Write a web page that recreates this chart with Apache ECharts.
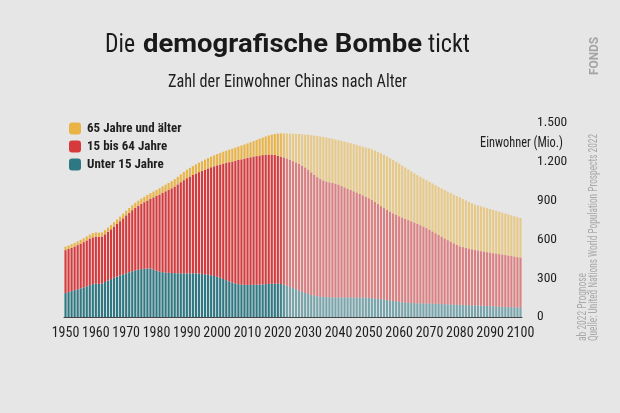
<!DOCTYPE html>
<html>
<head>
<meta charset="utf-8">
<script src="https://cdn.jsdelivr.net/npm/echarts@6/dist/echarts.min.js"></script>
<style>
html,body{margin:0;padding:0;background:#e6e6e6;}
#c{width:620px;height:413px;}
</style>
</head>
<body>
<div id="c"></div>
<script>
// Years 1950..2100
const years = [];
for (let y = 1950; y <= 2100; y++) years.push(String(y));

// Unter 15 Jahre (Mio.)
const unter15 = [
185,192,200,207,214,221,229,237,246,254,
258,256,258,270,282,293,303,313,322,330,
338,346,354,361,366,370,373,375,374,367,
358,352,347,343,341,340,339,338,338,337,
337,337,338,338,336,333,330,326,322,317,
311,303,294,285,275,266,259,254,251,249,
248,248,249,250,251,252,254,256,257,258,
258,255,250,242,233,224,214,204,194,186,
178,171,165,160,157,155,154,153,152,151,
151,151,151,151,151,150,150,150,150,149,
148,146,144,141,138,135,131,127,124,121,
118,115,112,110,108,107,106,105,105,104,
104,103,102,101,100,99,98,97,96,95,
94,93,92,91,90,89,88,87,86,85,
84,83,82,80,79,78,77,76,75,74,73
];
// 15 bis 64 Jahre (Mio.)
const jahre15bis64 = [
332,334,335,338,342,346,350,355,360,362,
364,364,364,369,377,385,396,406,419,433,
448,460,472,483,494,505,515,526,539,558,
578,595,613,629,642,655,670,687,704,721,
736,749,760,771,784,797,810,823,836,848,
862,876,892,906,922,936,949,960,968,976,
982,987,991,994,997,1000,1001,1000,998,995,
988,985,984,983,982,981,980,979,976,970,
960,947,934,921,909,900,893,888,884,879,
871,861,851,841,831,822,812,802,791,781,
770,758,745,732,719,707,697,687,677,668,
660,653,646,639,632,623,614,605,594,583,
570,558,546,533,520,508,496,484,473,462,
452,447,442,437,433,429,426,422,419,416,
413,410,408,406,404,401,398,395,392,389,386
];
// 65 Jahre und älter (Mio.)
const ab65 = [
27,27,28,28,29,30,30,31,31,32,
32,32,32,33,33,34,34,35,35,36,
36,37,38,39,40,41,42,43,44,45,
46,48,50,51,53,55,57,59,61,63,
65,67,69,71,73,75,77,80,82,85,
87,90,92,95,97,100,102,104,107,109,
112,116,120,125,130,135,141,148,155,162,
172,180,186,194,203,212,222,232,243,254,
271,288,304,319,330,337,341,342,342,343,
346,350,354,358,362,366,369,372,376,381,
386,392,398,404,409,412,413,414,413,411,
408,403,398,392,386,381,377,374,372,371,
371,371,371,372,374,375,376,377,377,378,
379,373,367,362,356,351,348,346,343,340,
338,335,331,328,324,321,318,315,312,309,306
];
const yTicks = [0, 300, 600, 900, 1200, 1500];
const seriesNames = ['Unter 15 Jahre', '15 bis 64 Jahre', '65 Jahre und älter'];
const colors = ['#2e7883', '#d63a3c', '#e9b445'];
const prognoseStart = '2022';

const COND = '"Roboto Condensed","DejaVu Sans Condensed",sans-serif';
const BOLD = 'Roboto,"DejaVu Sans",sans-serif';

const mctx = document.createElement('canvas').getContext('2d');
function fitScale(text, size, family, weight, target) {
  mctx.font = `${weight || 'normal'} ${size}px ${family}`;
  return target / mctx.measureText(text).width;
}
function fitText(text, x, y, size, family, weight, target, fill) {
  return {
    type: 'text', x: x, y: y,
    scaleX: fitScale(text, size, family, weight, target),
    style: { text: text, fontFamily: family, fontSize: size, fontWeight: weight || 'normal', fill: fill, align: 'left', verticalAlign: 'middle' }
  };
}

function styled(arr) {
  const startIdx = years.indexOf(prognoseStart);
  return arr.map((v, i) => {
    let op = 1;
    if (i === startIdx - 1) op = 0.9;
    else if (i === startIdx) op = 0.75;
    else if (i > startIdx) op = 0.6;
    return op === 1 ? v : { value: v, itemStyle: { opacity: op } };
  });
}

const chart = echarts.init(document.getElementById('c'), null, { renderer: 'canvas' });
const dataSets = [unter15, jahre15bis64, ab65];

const vtext = (text, x, len) => {
  const g = fitText(text, x, 341, 12, COND, 'normal', len, '#a9a9a9');
  g.rotation = Math.PI / 2;
  return g;
};
const fonds = fitText('FONDS', 595, 75, 13, BOLD, 'bold', 38, '#a3a3a3');
fonds.rotation = Math.PI / 2;

chart.setOption({
  backgroundColor: '#e6e6e6',
  animation: false,
  grid: { left: 64, right: 98, top: 123, bottom: 96, containLabel: false },
  legend: {
    data: seriesNames.slice().reverse(),
    orient: 'vertical',
    left: 64, top: 117,
    itemWidth: 12, itemHeight: 12, itemGap: 5,
    icon: 'roundRect',
    textStyle: { fontFamily: COND, fontSize: 13, fontWeight: 'bold', color: '#1e1e1e', padding: [0, 0, 0, 1] }
  },
  xAxis: {
    type: 'category',
    data: years,
    axisTick: { show: false },
    axisLine: { lineStyle: { color: '#444', width: 1 } },
    axisLabel: {
      interval: 9,
      showMinLabel: true,
      showMaxLabel: true,
      hideOverlap: false,
      margin: 9,
      fontFamily: COND, fontSize: 14, color: '#1e1e1e'
    }
  },
  yAxis: {
    type: 'value',
    position: 'right',
    min: yTicks[0], max: yTicks[yTicks.length - 1], interval: 300,
    splitLine: { show: false },
    axisLine: { show: false },
    axisTick: { show: false },
    axisLabel: {
      margin: 15,
      fontFamily: COND, fontSize: 13.5, color: '#1e1e1e',
      formatter: v => String(v).replace(/\B(?=(\d{3})+(?!\d))/g, '.')
    }
  },
  series: dataSets.map((d, k) => ({
    name: seriesNames[k],
    type: 'bar',
    stack: 'pop',
    data: styled(d),
    barCategoryGap: '30%',
    itemStyle: { color: colors[k] }
  })),
  graphic: [
    fitText('Die', 105, 45.5, 26, COND, 'normal', 30, '#1a1a1a'),
    fitText('demografische Bombe', 143, 45.5, 26, BOLD, 'bold', 279, '#1a1a1a'),
    fitText('tickt', 428, 45.5, 26, COND, 'normal', 42, '#1a1a1a'),
    fitText('Zahl der Einwohner Chinas nach Alter', 168, 82.5, 17.5, COND, 'normal', 239, '#1e1e1e'),
    fitText('Einwohner (Mio.)', 480, 143, 15, COND, 'normal', 83, '#1e1e1e'),
    vtext('ab 2022 Prognose', 583, 68),
    vtext('Quelle: United Nations World Population Prospects 2022', 594, 207),
    fonds
  ]
});
</script>
</body>
</html>
